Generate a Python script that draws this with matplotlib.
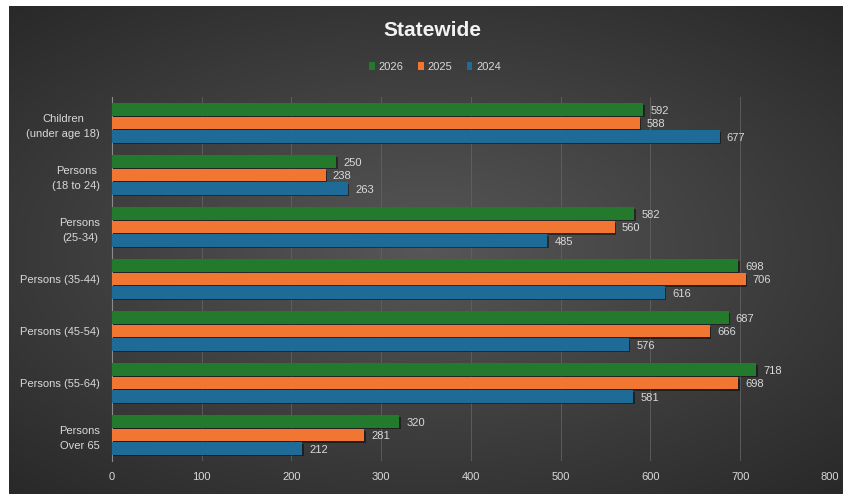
import numpy as np
import matplotlib.pyplot as plt
import matplotlib.patheffects as pe
from matplotlib.patches import Patch

plt.rcParams['font.family'] = ['Liberation Sans', 'DejaVu Sans']

categories = [
    "Children\n(under age 18)",
    "Persons\n(18 to 24)",
    "Persons\n(25-34)",
    "Persons (35-44)",
    "Persons (45-54)",
    "Persons (55-64)",
    "Persons\nOver 65",
]
years = ["2026", "2025", "2024"]
v2026 = [592, 250, 582, 698, 687, 718, 320]
v2025 = [588, 238, 560, 706, 666, 698, 281]
v2024 = [677, 263, 485, 616, 576, 581, 212]
xticks = [0, 100, 200, 300, 400, 500, 600, 700, 800]

colors = ["#237a2c", "#f07632", "#1f6b98"]
text_col = "#d9d9d9"

W, H = 845, 494
fig = plt.figure(figsize=(W / 100, H / 100), dpi=100)
fig.patch.set_facecolor("white")

# background panel with radial gradient
bx0, by0, bx1, by1 = 9, 6, 843, 494
bg = fig.add_axes([bx0 / W, 1 - by1 / H, (bx1 - bx0) / W, (by1 - by0) / H])
bg.set_zorder(-5)
gx = np.linspace(-1, 1, 400)
gy = np.linspace(-1, 1, 240)
GX, GY = np.meshgrid(gx, gy)
r = np.sqrt(GX ** 2 + (GY * 1.1) ** 2) / np.sqrt(1 + 1.21)
shade = 0.34 - 0.18 * r
bg.imshow(np.dstack([shade] * 3), aspect="auto", extent=[0, 1, 0, 1])
bg.axis("off")

# main chart axes
ax = fig.add_axes([112 / W, 33 / H, 718 / W, 364 / H])
ax.set_facecolor("none")

y = np.arange(len(categories))
h = 0.235
step = 0.26
shadow = [pe.SimplePatchShadow(offset=(1.0, -1.3), shadow_rgbFace="black", alpha=0.45), pe.Normal()]

for vals, off, col in zip([v2026, v2025, v2024], [-step, 0, step], colors):
    bars = ax.barh(y + off, vals, height=h, color=col, zorder=3)
    for b in bars:
        b.set_path_effects(shadow)
    for yi, v in zip(y + off, vals):
        ax.text(v + 8, yi + 0.02, str(v), va="center", ha="left", fontsize=8, color=text_col, zorder=4)

ax.set_xlim(0, 800)
ax.set_ylim(len(categories) - 0.5, -0.5)
ax.set_xticks(xticks)
ax.set_yticks(y)
ax.set_yticklabels(categories, multialignment="center", linespacing=1.65)
ax.tick_params(axis="both", length=0, colors=text_col, labelsize=8)
ax.tick_params(axis="x", pad=8)
ax.tick_params(axis="y", pad=8.5)
ax.grid(axis="x", color="#616161", linewidth=0.6, zorder=0)
for s in ["top", "right", "bottom"]:
    ax.spines[s].set_visible(False)
ax.spines["left"].set_color("#8a8a8a")
ax.spines["left"].set_linewidth(0.8)

fig.text(432 / W, 1 - 31 / H, "Statewide", ha="center", va="center", fontsize=15,
         fontweight="bold", color="#f2f2f2")

handles = [Patch(facecolor=c) for c in colors]
leg = fig.legend(handles, years, loc="center", bbox_to_anchor=(435 / W, 1 - 67 / H), ncol=3,
                 frameon=False, fontsize=8, handlelength=0.5, handleheight=0.7,
                 handletextpad=0.35, columnspacing=1.3, labelcolor=text_col)

fig.savefig("out.png", dpi=100)
